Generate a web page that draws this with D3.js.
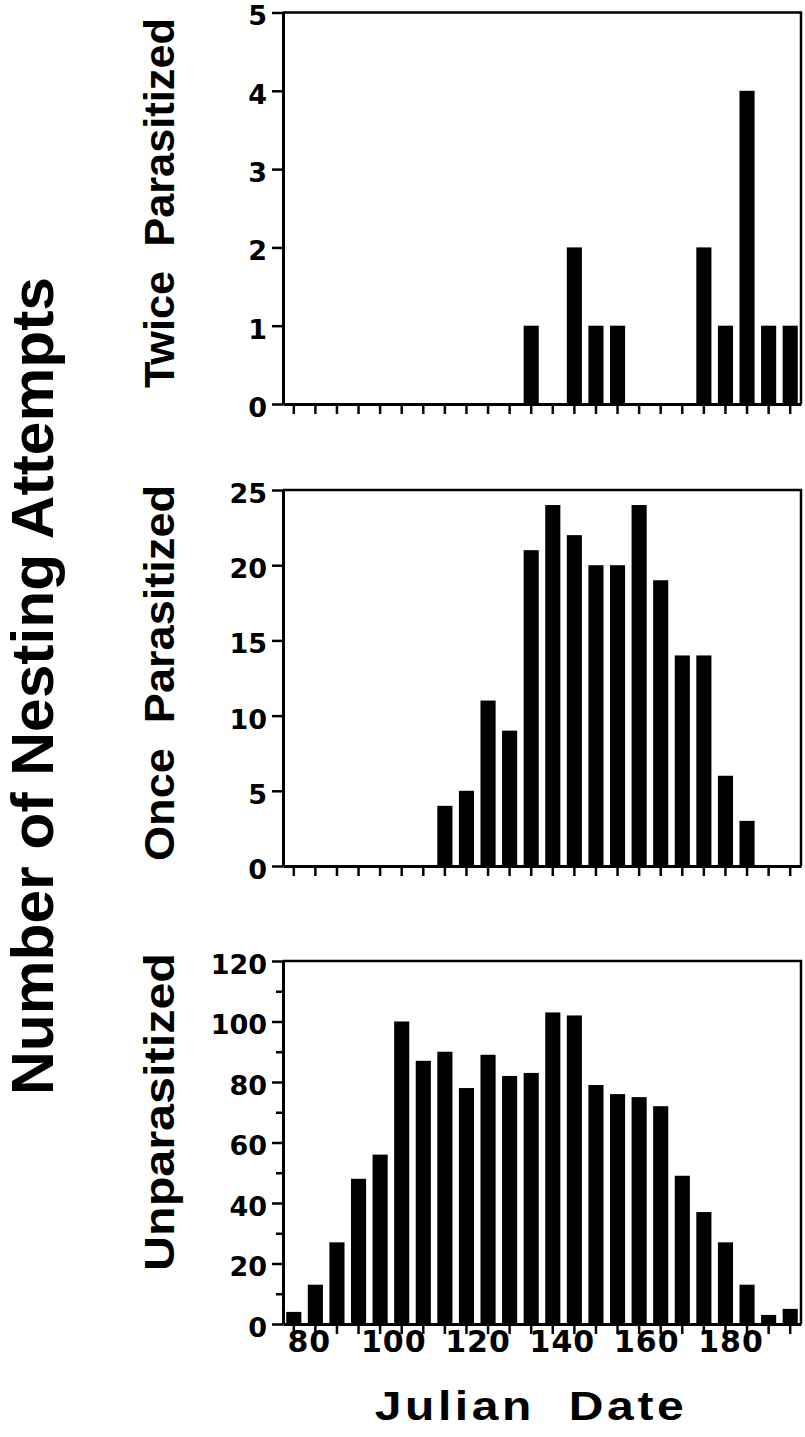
<!DOCTYPE html>
<html>
<head>
<meta charset="utf-8">
<script src="https://cdn.jsdelivr.net/npm/d3@7"></script>
<style>
  html, body { margin: 0; padding: 0; background: #fff; }
  .bar { fill: #000; }
  .axis path, .axis line { stroke: #000; }
  .tick-label { font-family: "DejaVu Sans", sans-serif; font-weight: bold; fill: #000; }
  .title { font-family: "Liberation Sans", Arial, sans-serif; font-weight: bold; fill: #000; }
</style>
</head>
<body>
<div id="chart"></div>
<script>
// julian date of each 5-day bin (bar centre)
const dates = [75, 80, 85, 90, 95, 100, 105, 110, 115, 120, 125, 130,
  135, 140, 145, 150, 155, 160, 165, 170, 175, 180, 185, 190];

const twice = [0, 0, 0, 0, 0, 0, 0, 0, 0, 0, 0, 1,
  0, 2, 1, 1, 0, 0, 0, 2, 1, 4, 1, 1];
const once = [0, 0, 0, 0, 0, 0, 0, 4, 5, 11, 9, 21,
  24, 22, 20, 20, 24, 19, 14, 14, 6, 3, 0, 0];
const unparasitized = [4, 13, 27, 48, 56, 100, 87, 90, 78, 89, 82, 83,
  103, 102, 79, 76, 75, 72, 49, 37, 27, 13, 3, 5];

const twiceTicks = [0, 1, 2, 3, 4, 5];
const onceTicks = [0, 5, 10, 15, 20, 25];
const unparaTicks = [0, 20, 40, 60, 80, 100, 120];
const unparaMinor = [10, 30, 50, 70, 90, 110];
const dateLabels = [80, 100, 120, 140, 160, 180];

window.onload = () => {
  const W = 805, H = 1437;
  const plot = { left: 283, right: 801 };

  const panels = [
    { name: "Twice  Parasitized", values: twice, ticks: twiceTicks, minor: [],
      top: 12.5, bottom: 404, labelY: 203, labelLen: 370 },
    { name: "Once  Parasitized", values: once, ticks: onceTicks, minor: [],
      top: 490, bottom: 866, labelY: 673, labelLen: 376 },
    { name: "Unparasitized", values: unparasitized, ticks: unparaTicks, minor: unparaMinor,
      top: 961, bottom: 1324, labelY: 1112, labelLen: 318 }
  ];

  const svg = d3
    .select("#chart")
    .append("svg")
    .attr("width", W)
    .attr("height", H);

  const x = d3
    .scaleBand()
    .domain(dates)
    .range([plot.left, plot.right])
    .paddingInner(0.3)
    .paddingOuter(0.15);
  const centre = d => x(d) + x.bandwidth() / 2;

  panels.forEach((p, k) => {
    const y = d3
      .scaleLinear()
      .domain([0, d3.max(p.ticks)])
      .range([p.bottom, p.top]);
    const g = svg.append("g").attr("class", "panel");

    // bars
    g.selectAll("rect.bar")
      .data(dates.map((d, i) => ({ date: d, v: p.values[i] })).filter(d => d.v > 0))
      .join("rect")
      .attr("class", "bar")
      .attr("x", d => x(d.date))
      .attr("width", x.bandwidth())
      .attr("y", d => y(d.v))
      .attr("height", d => y(0) - y(d.v));

    // frame top + right
    g.append("path")
      .attr("d", `M${plot.left},${y.range()[1]}H${plot.right}V${y(0)}`)
      .attr("fill", "none")
      .attr("stroke", "#000")
      .attr("stroke-width", 2.5);

    // y axis
    const yAxis = g
      .append("g")
      .attr("class", "axis")
      .attr("transform", `translate(${plot.left},0)`)
      .call(d3.axisLeft(y).tickValues(p.ticks).tickSize(11).tickSizeOuter(0).tickFormat(""));
    yAxis.select(".domain").attr("stroke-width", 3);
    yAxis.selectAll(".tick line").attr("stroke-width", 2.5);
    if (p.minor.length) {
      g.append("g")
        .attr("class", "axis")
        .attr("transform", `translate(${plot.left},0)`)
        .call(d3.axisLeft(y).tickValues(p.minor).tickSize(7).tickSizeOuter(0).tickFormat(""))
        .call(a => a.select(".domain").remove())
        .selectAll(".tick line")
        .attr("stroke-width", 2.5);
    }
    g.selectAll("text.ylab")
      .data(p.ticks)
      .join("text")
      .attr("class", "tick-label ylab")
      .attr("x", plot.left - 16)
      .attr("y", d => y(d))
      .attr("dy", "0.48em")
      .attr("text-anchor", "end")
      .style("font-size", "27px")
      .text(d => d);

    // x axis
    const xAxis = g
      .append("g")
      .attr("class", "axis")
      .attr("transform", `translate(0,${y(0)})`)
      .call(d3.axisBottom(x).tickSize(10).tickSizeOuter(0).tickFormat(""));
    xAxis.select(".domain").attr("stroke-width", 3);
    xAxis.selectAll(".tick line").attr("stroke-width", 2.5);

    // panel label
    g.append("text")
      .attr("class", "title")
      .attr("transform", `translate(174,${p.labelY}) rotate(-90)`)
      .attr("text-anchor", "middle")
      .attr("textLength", p.labelLen)
      .attr("lengthAdjust", "spacingAndGlyphs")
      .style("font-size", "42px")
      .style("white-space", "pre")
      .text(p.name);

    if (k === panels.length - 1) {
      // date labels sit a little left of their ticks in the original
      const lab = d3
        .scaleLinear()
        .domain([dateLabels[0], dateLabels[dateLabels.length - 1]])
        .range([centre(dateLabels[0]) - 6, centre(dateLabels[dateLabels.length - 1]) - 16]);
      g.selectAll("text.xlab")
        .data(dateLabels)
        .join("text")
        .attr("class", "tick-label xlab")
        .attr("x", d => lab(d))
        .attr("y", y(0) + 28)
        .attr("text-anchor", "middle")
        .style("font-size", "30px")
        .style("letter-spacing", "1px")
        .text(d => d);
    }
  });

  // overall titles
  svg.append("text")
    .attr("class", "title")
    .attr("transform", "translate(53,686) rotate(-90)")
    .attr("text-anchor", "middle")
    .attr("textLength", 818)
    .attr("lengthAdjust", "spacingAndGlyphs")
    .style("font-size", "60px")
    .text("Number of Nesting Attempts");

  // horizontally widened like the scanned original
  svg.append("text")
    .attr("class", "title")
    .attr("transform", "translate(531,1420) scale(1.2,1)")
    .attr("text-anchor", "middle")
    .style("font-size", "40px")
    .style("letter-spacing", "3px")
    .style("white-space", "pre")
    .text("Julian  Date");
};
</script>
</body>
</html>
